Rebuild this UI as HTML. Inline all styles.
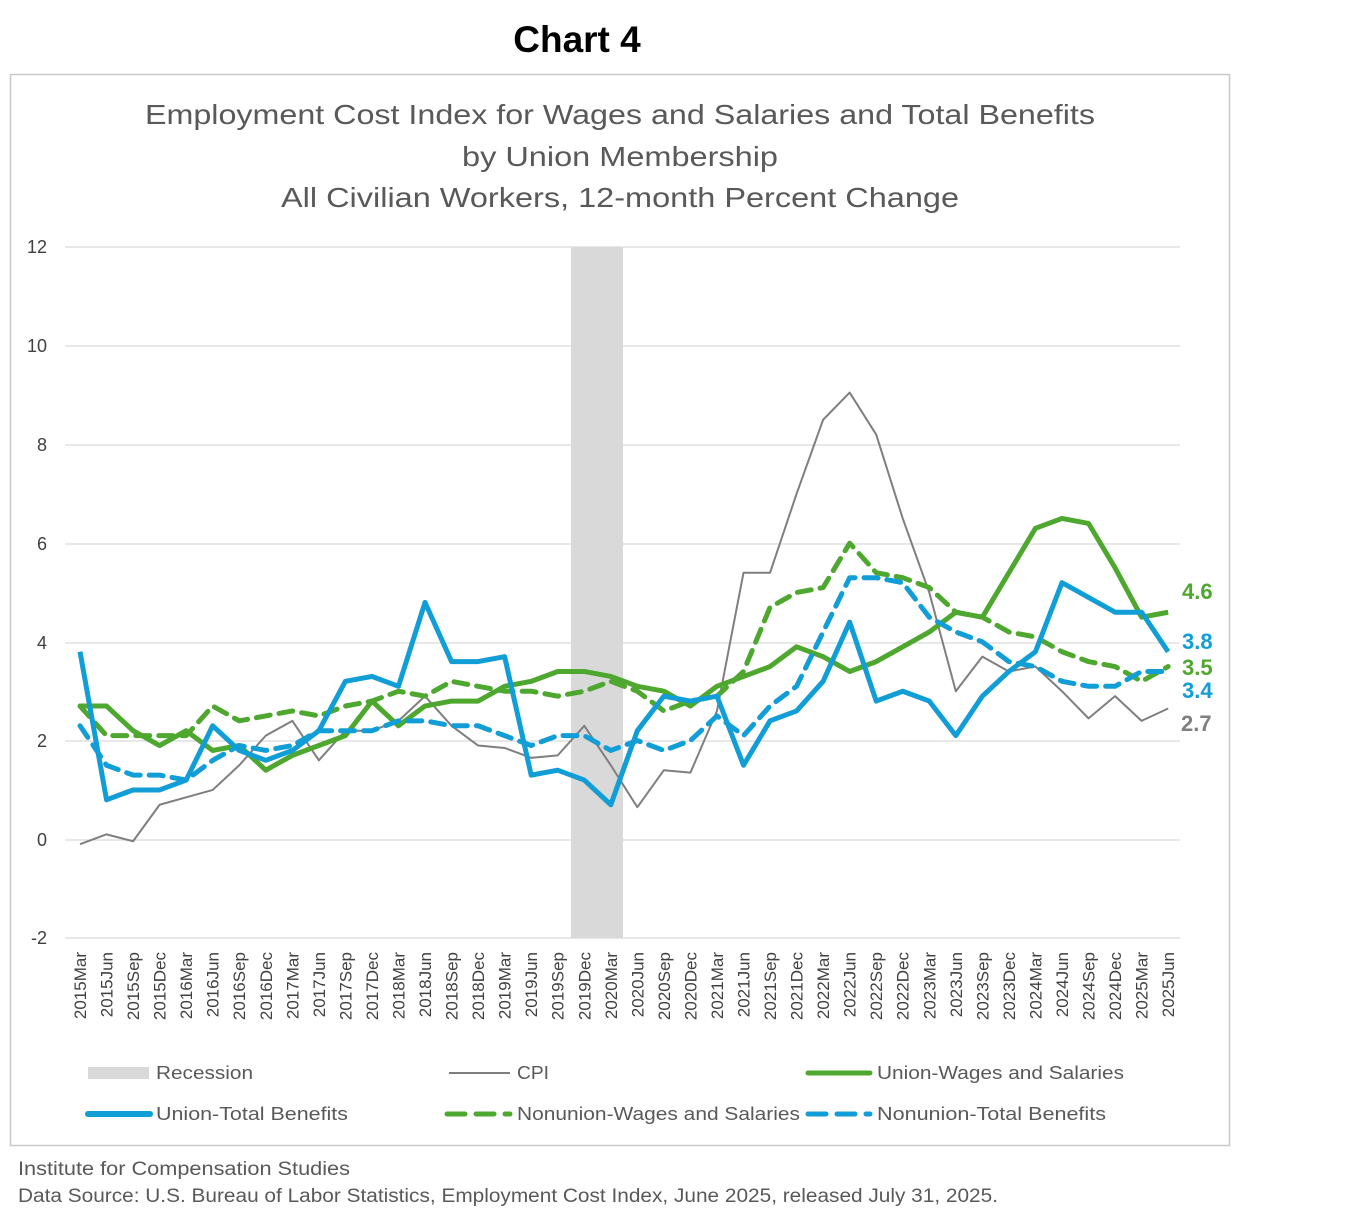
<!DOCTYPE html>
<html><head><meta charset="utf-8"><style>
html,body{margin:0;padding:0;background:#fff;}
svg{display:block;font-family:"Liberation Sans",sans-serif;}
</style></head><body>
<svg width="1360" height="1222" viewBox="0 0 1360 1222" xmlns="http://www.w3.org/2000/svg">
<rect x="0" y="0" width="1360" height="1222" fill="#fff"/>
<text x="577" y="52" font-size="37" font-weight="bold" text-anchor="middle" fill="#000">Chart 4</text>
<rect x="10.5" y="74.5" width="1219" height="1071" fill="none" stroke="#c8c8c8" stroke-width="1.5"/>
<g font-size="28" fill="#595959" text-anchor="middle">
<text x="620" y="124" textLength="950" lengthAdjust="spacingAndGlyphs">Employment Cost Index for Wages and Salaries and Total Benefits</text>
<text x="620" y="166" textLength="316" lengthAdjust="spacingAndGlyphs">by Union Membership</text>
<text x="620" y="207" textLength="678" lengthAdjust="spacingAndGlyphs">All Civilian Workers, 12-month Percent Change</text>
</g>
<rect x="571" y="247" width="52" height="691" fill="#d9d9d9"/>
<g stroke="#d9d9d9" stroke-width="1.3">
<line x1="65" x2="1180" y1="247" y2="247"/><line x1="65" x2="1180" y1="346" y2="346"/>
<line x1="65" x2="1180" y1="445" y2="445"/><line x1="65" x2="1180" y1="544" y2="544"/>
<line x1="65" x2="1180" y1="643" y2="643"/><line x1="65" x2="1180" y1="741" y2="741"/>
<line x1="65" x2="1180" y1="840" y2="840"/><line x1="65" x2="1180" y1="938" y2="938"/>
</g>
<g font-size="18" fill="#404040" text-anchor="end">
<text x="47" y="253">12</text><text x="47" y="352">10</text><text x="47" y="451">8</text>
<text x="47" y="550">6</text><text x="47" y="649">4</text><text x="47" y="747">2</text>
<text x="47" y="846">0</text><text x="47" y="944">-2</text>
</g>
<g transform="translate(80,839.3) scale(26.54,-49.36)" fill="none" stroke-linejoin="round">
<polyline vector-effect="non-scaling-stroke" stroke="#7f7f7f" stroke-width="2" points="0,-0.1 1,0.1 2,-0.04 3,0.7 4,0.85 5,1.0 6,1.5 7,2.1 8,2.4 9,1.6 10,2.2 11,2.2 12,2.4 13,2.9 14,2.3 15,1.9 16,1.85 17,1.65 18,1.7 19,2.3 20,1.5 21,0.65 22,1.4 23,1.35 24,2.6 25,5.4 26,5.4 27,7.0 28,8.5 29,9.05 30,8.2 31,6.5 32,5.0 33,3.0 34,3.7 35,3.4 36,3.5 37,3.0 38,2.45 39,2.9 40,2.4 41,2.65"/>
<polyline vector-effect="non-scaling-stroke" stroke="#4ea72e" stroke-width="5" points="0,2.7 1,2.7 2,2.2 3,1.9 4,2.2 5,1.8 6,1.9 7,1.4 8,1.7 9,1.9 10,2.1 11,2.8 12,2.3 13,2.7 14,2.8 15,2.8 16,3.1 17,3.2 18,3.4 19,3.4 20,3.3 21,3.1 22,3.0 23,2.7 24,3.1 25,3.3 26,3.5 27,3.9 28,3.7 29,3.4 30,3.6 31,3.9 32,4.2 33,4.6 34,4.5 35,5.4 36,6.3 37,6.5 38,6.4 39,5.5 40,4.5 41,4.6"/>
<polyline vector-effect="non-scaling-stroke" stroke="#4ea72e" stroke-width="5" stroke-dasharray="14,9" stroke-linecap="round" points="0,2.7 1,2.1 2,2.1 3,2.1 4,2.1 5,2.7 6,2.4 7,2.5 8,2.6 9,2.5 10,2.7 11,2.8 12,3.0 13,2.9 14,3.2 15,3.1 16,3.0 17,3.0 18,2.9 19,3.0 20,3.2 21,3.0 22,2.6 23,2.8 24,2.9 25,3.4 26,4.7 27,5.0 28,5.1 29,6.0 30,5.4 31,5.3 32,5.1 33,4.6 34,4.5 35,4.2 36,4.1 37,3.8 38,3.6 39,3.5 40,3.2 41,3.5"/>
<polyline vector-effect="non-scaling-stroke" stroke="#119ed6" stroke-width="5" stroke-dasharray="14,9" stroke-linecap="round" points="0,2.3 1,1.5 2,1.3 3,1.3 4,1.2 5,1.6 6,1.9 7,1.8 8,1.9 9,2.2 10,2.2 11,2.2 12,2.4 13,2.4 14,2.3 15,2.3 16,2.1 17,1.9 18,2.1 19,2.1 20,1.8 21,2.0 22,1.8 23,2.0 24,2.5 25,2.1 26,2.7 27,3.1 28,4.2 29,5.3 30,5.3 31,5.2 32,4.5 33,4.2 34,4.0 35,3.6 36,3.5 37,3.2 38,3.1 39,3.1 40,3.4 41,3.4"/>
<polyline vector-effect="non-scaling-stroke" stroke="#119ed6" stroke-width="5" points="0,3.8 1,0.8 2,1.0 3,1.0 4,1.2 5,2.3 6,1.8 7,1.6 8,1.8 9,2.2 10,3.2 11,3.3 12,3.1 13,4.8 14,3.6 15,3.6 16,3.7 17,1.3 18,1.4 19,1.2 20,0.7 21,2.2 22,2.9 23,2.8 24,2.9 25,1.5 26,2.4 27,2.6 28,3.2 29,4.4 30,2.8 31,3.0 32,2.8 33,2.1 34,2.9 35,3.4 36,3.8 37,5.2 38,4.9 39,4.6 40,4.6 41,3.8"/>
</g>
<g font-size="22" font-weight="bold">
<text x="1182" y="599" fill="#4ea72e">4.6</text>
<text x="1182" y="649" fill="#119ed6">3.8</text>
<text x="1182" y="675" fill="#4ea72e">3.5</text>
<text x="1182" y="698" fill="#119ed6">3.4</text>
<text x="1181" y="731" fill="#7f7f7f">2.7</text>
</g>
<g font-size="17" fill="#404040" text-anchor="end">
<text transform="translate(86,952) rotate(-90)">2015Mar</text>
<text transform="translate(112.5,952) rotate(-90)">2015Jun</text>
<text transform="translate(139.1,952) rotate(-90)">2015Sep</text>
<text transform="translate(165.6,952) rotate(-90)">2015Dec</text>
<text transform="translate(192.2,952) rotate(-90)">2016Mar</text>
<text transform="translate(218.7,952) rotate(-90)">2016Jun</text>
<text transform="translate(245.2,952) rotate(-90)">2016Sep</text>
<text transform="translate(271.8,952) rotate(-90)">2016Dec</text>
<text transform="translate(298.3,952) rotate(-90)">2017Mar</text>
<text transform="translate(324.9,952) rotate(-90)">2017Jun</text>
<text transform="translate(351.4,952) rotate(-90)">2017Sep</text>
<text transform="translate(377.9,952) rotate(-90)">2017Dec</text>
<text transform="translate(404.5,952) rotate(-90)">2018Mar</text>
<text transform="translate(431,952) rotate(-90)">2018Jun</text>
<text transform="translate(457.6,952) rotate(-90)">2018Sep</text>
<text transform="translate(484.1,952) rotate(-90)">2018Dec</text>
<text transform="translate(510.6,952) rotate(-90)">2019Mar</text>
<text transform="translate(537.2,952) rotate(-90)">2019Jun</text>
<text transform="translate(563.7,952) rotate(-90)">2019Sep</text>
<text transform="translate(590.3,952) rotate(-90)">2019Dec</text>
<text transform="translate(616.8,952) rotate(-90)">2020Mar</text>
<text transform="translate(643.3,952) rotate(-90)">2020Jun</text>
<text transform="translate(669.9,952) rotate(-90)">2020Sep</text>
<text transform="translate(696.4,952) rotate(-90)">2020Dec</text>
<text transform="translate(723,952) rotate(-90)">2021Mar</text>
<text transform="translate(749.5,952) rotate(-90)">2021Jun</text>
<text transform="translate(776,952) rotate(-90)">2021Sep</text>
<text transform="translate(802.6,952) rotate(-90)">2021Dec</text>
<text transform="translate(829.1,952) rotate(-90)">2022Mar</text>
<text transform="translate(855.7,952) rotate(-90)">2022Jun</text>
<text transform="translate(882.2,952) rotate(-90)">2022Sep</text>
<text transform="translate(908.7,952) rotate(-90)">2022Dec</text>
<text transform="translate(935.3,952) rotate(-90)">2023Mar</text>
<text transform="translate(961.8,952) rotate(-90)">2023Jun</text>
<text transform="translate(988.4,952) rotate(-90)">2023Sep</text>
<text transform="translate(1014.9,952) rotate(-90)">2023Dec</text>
<text transform="translate(1041.4,952) rotate(-90)">2024Mar</text>
<text transform="translate(1068,952) rotate(-90)">2024Jun</text>
<text transform="translate(1094.5,952) rotate(-90)">2024Sep</text>
<text transform="translate(1121.1,952) rotate(-90)">2024Dec</text>
<text transform="translate(1147.6,952) rotate(-90)">2025Mar</text>
<text transform="translate(1174.1,952) rotate(-90)">2025Jun</text>
</g>
<rect x="88" y="1067" width="61" height="12" fill="#d9d9d9"/>
<line x1="449" x2="510" y1="1073" y2="1073" stroke="#7f7f7f" stroke-width="2"/>
<line x1="808" x2="870" y1="1073" y2="1073" stroke="#4ea72e" stroke-width="5" stroke-linecap="round"/>
<line x1="88" x2="150" y1="1114" y2="1114" stroke="#119ed6" stroke-width="6" stroke-linecap="round"/>
<line x1="447" x2="510" y1="1114" y2="1114" stroke="#4ea72e" stroke-width="5" stroke-linecap="round" stroke-dasharray="18,11"/>
<line x1="808" x2="870" y1="1114" y2="1114" stroke="#119ed6" stroke-width="5" stroke-linecap="round" stroke-dasharray="18,11"/>
<g font-size="18" fill="#595959">
<text x="156" y="1079" textLength="97" lengthAdjust="spacingAndGlyphs">Recession</text>
<text x="517" y="1079" textLength="32" lengthAdjust="spacingAndGlyphs">CPI</text>
<text x="877" y="1079" textLength="247" lengthAdjust="spacingAndGlyphs">Union-Wages and Salaries</text>
<text x="156" y="1120" textLength="192" lengthAdjust="spacingAndGlyphs">Union-Total Benefits</text>
<text x="517" y="1120" textLength="283" lengthAdjust="spacingAndGlyphs">Nonunion-Wages and Salaries</text>
<text x="877" y="1120" textLength="229" lengthAdjust="spacingAndGlyphs">Nonunion-Total Benefits</text>
</g>
<g font-size="19" fill="#595959">
<text x="18" y="1175" textLength="332" lengthAdjust="spacingAndGlyphs">Institute for Compensation Studies</text>
<text x="18" y="1202" textLength="980" lengthAdjust="spacingAndGlyphs">Data Source: U.S. Bureau of Labor Statistics, Employment Cost Index, June 2025, released July 31, 2025.</text>
</g>
</svg>
</body></html>
